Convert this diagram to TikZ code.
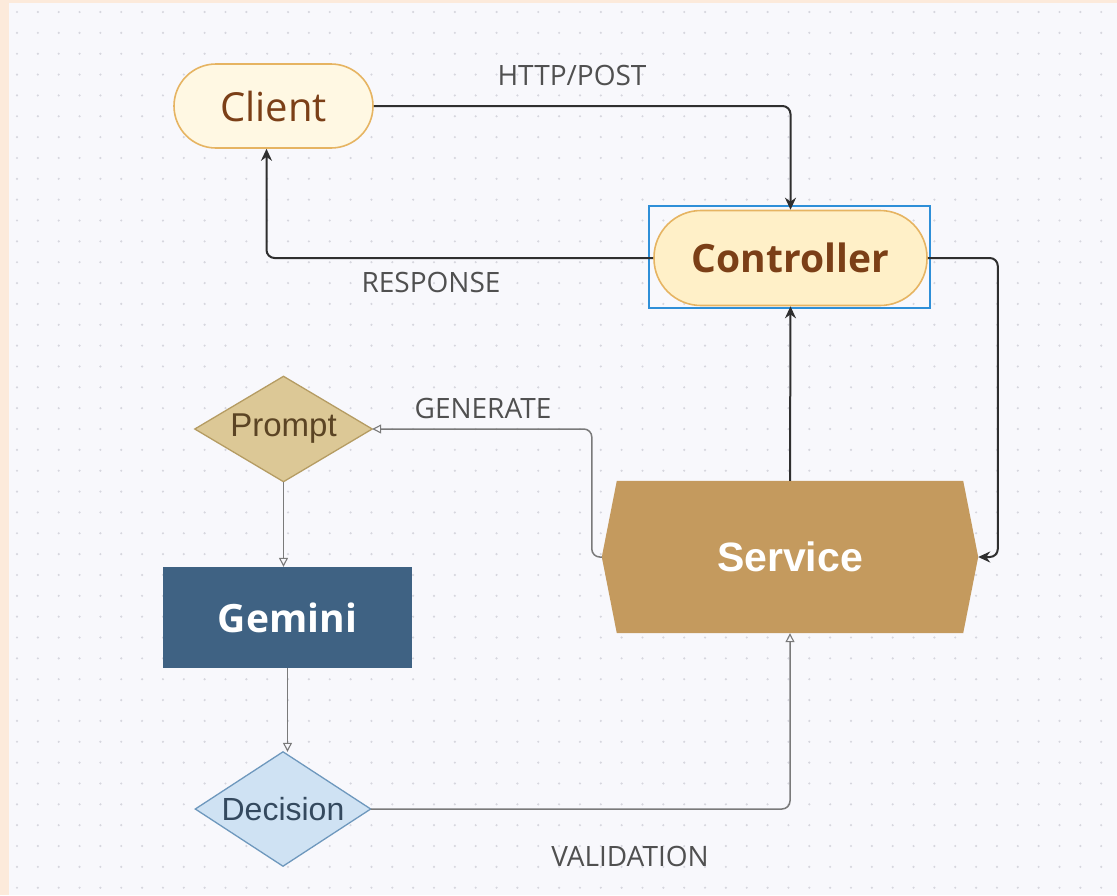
\documentclass[tikz,border=0pt]{standalone}
\usepackage{fontspec}
\setmainfont{Open Sans}
\newfontfamily\osans{Open Sans}
\newfontfamily\arialf{Liberation Sans}
\usetikzlibrary{arrows.meta}
\definecolor{peach}{HTML}{FCEADB}
\definecolor{canvas}{HTML}{F8F8FC}
\definecolor{dotc}{HTML}{D6D6DE}
\definecolor{pillfill}{HTML}{FFF8E3}
\definecolor{pillfillb}{HTML}{FFF0C8}
\definecolor{pilldraw}{HTML}{E6B462}
\definecolor{pilltext}{HTML}{7B3F17}
\definecolor{servfill}{HTML}{C49A5E}
\definecolor{promptfill}{HTML}{DCC896}
\definecolor{promptdraw}{HTML}{B59C63}
\definecolor{prompttext}{HTML}{5B4424}
\definecolor{gemfill}{HTML}{3F6283}
\definecolor{decfill}{HTML}{CFE2F3}
\definecolor{decdraw}{HTML}{6E98BD}
\definecolor{dectext}{HTML}{34495E}
\definecolor{selblue}{HTML}{2E8FD8}
\definecolor{lblc}{HTML}{505050}
\definecolor{greyline}{HTML}{7A7A7A}
\definecolor{blkline}{HTML}{2F2F2F}
\begin{document}
\begin{tikzpicture}[x=1pt,y=-1pt,
  pill/.style={rectangle, draw=pilldraw, line width=1.6pt, inner sep=0pt, text=pilltext},
  blk/.style={draw=blkline, line width=2pt, rounded corners=8pt, -{Stealth[length=12pt,width=11pt]}},
  gry/.style={draw=greyline, line width=1.5pt, rounded corners=8pt, -{Triangle[open,length=9pt,width=9pt,line width=1.1pt]}},
  lbl/.style={text=lblc, font=\osans\fontsize{28}{28}\selectfont, inner sep=0pt},
  boxtext/.style={inner sep=0pt}
]
\useasboundingbox (0,0) rectangle (1117,895);
\fill[peach] (0,0) rectangle (1117,895);
\fill[canvas] (9,3) rectangle (1117,895);
\foreach \i in {0,...,52}{
  \foreach \j in {0,...,42}{
    \fill[dotc] (17+\i*20.85, 12+\j*20.85) circle (1.2pt);
  }
}
% Client
\node[pill, fill=pillfill, rounded corners=42pt, minimum width=199pt, minimum height=84pt,
  font=\osans\fontsize{40}{40}\selectfont] (client) at (273.5,106) {Client};
% Controller
\draw[selblue, line width=1.5pt] (649,206) rectangle (930,308);
\node[pill, fill=pillfillb, rounded corners=47pt, minimum width=273pt, minimum height=95pt,
  font=\osans\bfseries\fontsize{39}{39}\selectfont] (controller) at (790.5,258) {Controller};
% Service
\node[boxtext, minimum width=376pt, minimum height=152pt] (service) at (790,557) {};
\fill[servfill] (service.west) -- ([xshift=15pt]service.north west) -- ([xshift=-15pt]service.north east)
  -- (service.east) -- ([xshift=-15pt]service.south east) -- ([xshift=15pt]service.south west) -- cycle;
\node[text=white, font=\arialf\bfseries\fontsize{41}{41}\selectfont] at (service.center) {Service};
% Prompt
\node[boxtext, minimum width=177pt, minimum height=105pt] (prompt) at (283.5,429) {};
\draw[promptdraw, fill=promptfill, line width=1.3pt] (prompt.west) -- (prompt.north) -- (prompt.east) -- (prompt.south) -- cycle;
\node[text=prompttext, font=\arialf\fontsize{33}{33}\selectfont] at (prompt.center) {Prompt};
% Gemini
\node[rectangle, fill=gemfill, minimum width=249pt, minimum height=101pt, inner sep=0pt,
  text=white, font=\osans\bfseries\fontsize{39}{39}\selectfont] (gemini) at (287.5,617.5) {Gemini};
% Decision
\node[boxtext, minimum width=175pt, minimum height=114pt] (decision) at (283,809) {};
\draw[decdraw, fill=decfill, line width=1.3pt] (decision.west) -- (decision.north) -- (decision.east) -- (decision.south) -- cycle;
\node[text=dectext, font=\arialf\fontsize{32}{32}\selectfont] at (decision.center) {Decision};
% connectors
\draw[blk] (client.east) -| (controller.north);
\draw[blk] (controller.west) -| ([xshift=-7pt]client.south);
\draw[blk] (controller.east) -- ++(70,0) |- (service.east);
\draw[blk] (service.north) -- (controller.south);
\draw[gry] (service.west) -- ++(-10,0) |- (prompt.east);
\draw[gry] (prompt.south) -- (prompt.south |- gemini.north);
\draw[gry] (gemini.south) -- (gemini.south |- decision.north);
\draw[gry] (decision.east) -| (service.south);
% labels
\node[lbl] (l1) at (572,75) {HTTP/POST};
\node[lbl] (l2) at (431,282) {RESPONSE};
\node[lbl] (l3) at (483,408) {GENERATE};
\node[lbl] (l4) at (630,856) {VALIDATION};
\end{tikzpicture}
\end{document}
